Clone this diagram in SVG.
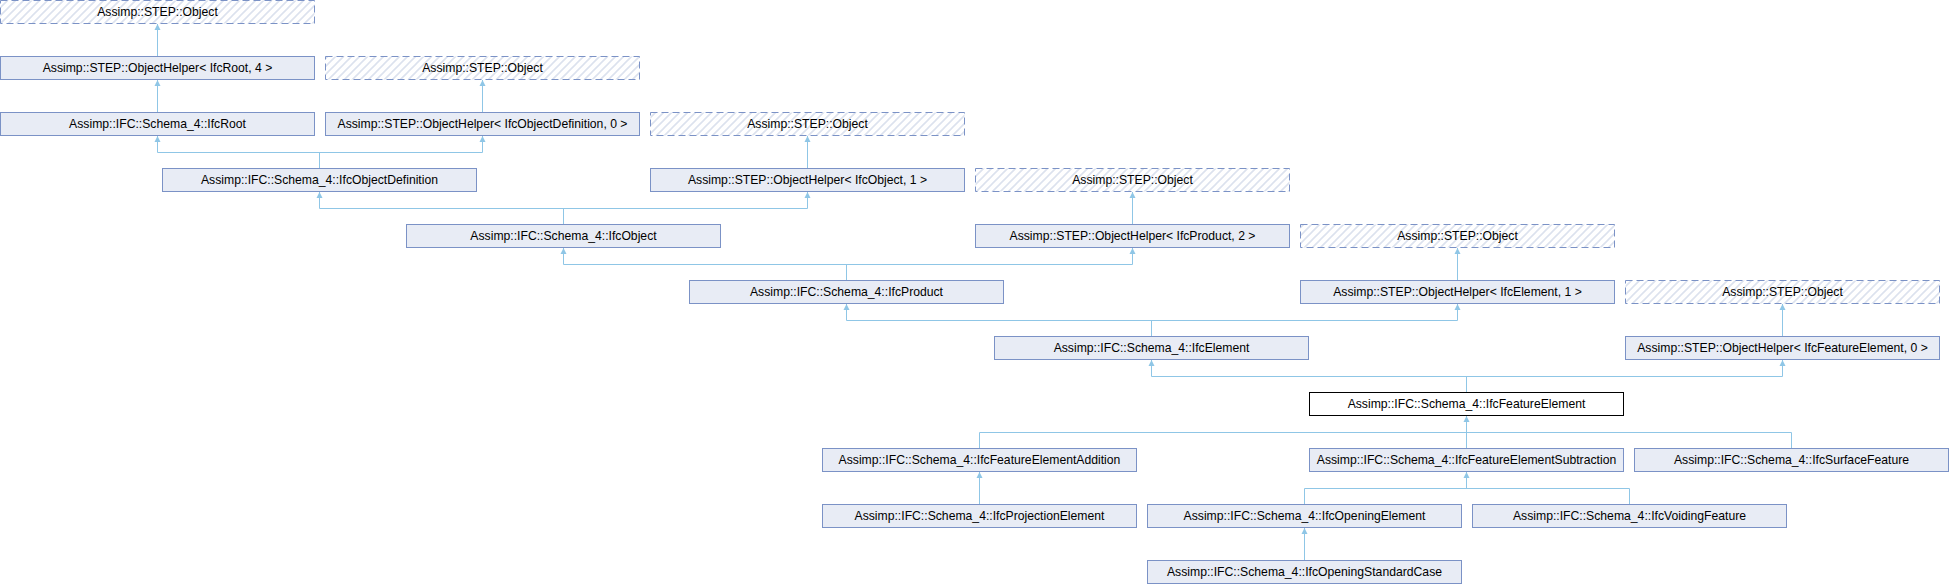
<svg xmlns="http://www.w3.org/2000/svg" width="1949" height="584" viewBox="0 0 1949 584">
<defs>
<pattern id="hatch" patternUnits="userSpaceOnUse" width="8" height="8">
<path d="M-2,2 L2,-2 M0,8 L8,0 M6,10 L10,6" stroke="#dce2ee" stroke-width="1.6"/>
</pattern>
<style>
.n rect{fill:#e8ecf5;stroke:#7b92c6;stroke-width:1}
.d rect{fill:url(#hatch);stroke:#7b92c6;stroke-width:1;stroke-dasharray:7,4}
.cur rect{fill:#ffffff;stroke:#000000;stroke-width:1}
text{font-family:"Liberation Sans",Arial,sans-serif;font-size:12.2px;fill:#000;text-anchor:middle}
#edges path{fill:none;stroke:#8fc6e6;stroke-width:1}
#edges polygon{fill:#8fc6e6;stroke:none}
</style>
</defs>
<rect x="0" y="0" width="1949" height="584" fill="#ffffff"/>
<g id="edges">
<path d="M157.5,56 V24"/><polygon points="157.5,24 154.5,30 160.5,30"/>
<path d="M482.5,112 V80"/><polygon points="482.5,80 479.5,86 485.5,86"/>
<path d="M157.5,112 V80"/><polygon points="157.5,80 154.5,86 160.5,86"/>
<path d="M319.5,168 V152.5 M157.5,136 V152.5 H482.5 V136"/><polygon points="157.5,136 154.5,142 160.5,142"/><polygon points="482.5,136 479.5,142 485.5,142"/>
<path d="M807.5,168 V136"/><polygon points="807.5,136 804.5,142 810.5,142"/>
<path d="M563.5,224 V208.5 M319.5,192 V208.5 H807.5 V192"/><polygon points="319.5,192 316.5,198 322.5,198"/><polygon points="807.5,192 804.5,198 810.5,198"/>
<path d="M1132.5,224 V192"/><polygon points="1132.5,192 1129.5,198 1135.5,198"/>
<path d="M846.5,280 V264.5 M563.5,248 V264.5 H1132.5 V248"/><polygon points="563.5,248 560.5,254 566.5,254"/><polygon points="1132.5,248 1129.5,254 1135.5,254"/>
<path d="M1457.5,280 V248"/><polygon points="1457.5,248 1454.5,254 1460.5,254"/>
<path d="M1151.5,336 V320.5 M846.5,304 V320.5 H1457.5 V304"/><polygon points="846.5,304 843.5,310 849.5,310"/><polygon points="1457.5,304 1454.5,310 1460.5,310"/>
<path d="M1782.5,336 V304"/><polygon points="1782.5,304 1779.5,310 1785.5,310"/>
<path d="M1466.5,392 V376.5 M1151.5,360 V376.5 H1782.5 V360"/><polygon points="1151.5,360 1148.5,366 1154.5,366"/><polygon points="1782.5,360 1779.5,366 1785.5,366"/>
<path d="M979.5,448 V432.5 H1791.5 V448 M1466.5,448 V416"/><polygon points="1466.5,416 1463.5,422 1469.5,422"/>
<path d="M979.5,504 V472"/><polygon points="979.5,472 976.5,478 982.5,478"/>
<path d="M1304.5,504 V488.5 H1629.5 V504 M1466.5,488.5 V472"/><polygon points="1466.5,472 1463.5,478 1469.5,478"/>
<path d="M1304.5,560 V528"/><polygon points="1304.5,528 1301.5,534 1307.5,534"/>
</g>
<g id="node0" class="d"><rect x="0.5" y="0.5" width="314" height="23"/><text x="157.5" y="16">Assimp::STEP::Object</text></g>
<g id="node1" class="n"><rect x="0.5" y="56.5" width="314" height="23"/><text x="157.5" y="72">Assimp::STEP::ObjectHelper&lt; IfcRoot, 4 &gt;</text></g>
<g id="node2" class="d"><rect x="325.5" y="56.5" width="314" height="23"/><text x="482.5" y="72">Assimp::STEP::Object</text></g>
<g id="node3" class="n"><rect x="0.5" y="112.5" width="314" height="23"/><text x="157.5" y="128">Assimp::IFC::Schema_4::IfcRoot</text></g>
<g id="node4" class="n"><rect x="325.5" y="112.5" width="314" height="23"/><text x="482.5" y="128">Assimp::STEP::ObjectHelper&lt; IfcObjectDefinition, 0 &gt;</text></g>
<g id="node5" class="d"><rect x="650.5" y="112.5" width="314" height="23"/><text x="807.5" y="128">Assimp::STEP::Object</text></g>
<g id="node6" class="n"><rect x="162.5" y="168.5" width="314" height="23"/><text x="319.5" y="184">Assimp::IFC::Schema_4::IfcObjectDefinition</text></g>
<g id="node7" class="n"><rect x="650.5" y="168.5" width="314" height="23"/><text x="807.5" y="184">Assimp::STEP::ObjectHelper&lt; IfcObject, 1 &gt;</text></g>
<g id="node8" class="d"><rect x="975.5" y="168.5" width="314" height="23"/><text x="1132.5" y="184">Assimp::STEP::Object</text></g>
<g id="node9" class="n"><rect x="406.5" y="224.5" width="314" height="23"/><text x="563.5" y="240">Assimp::IFC::Schema_4::IfcObject</text></g>
<g id="node10" class="n"><rect x="975.5" y="224.5" width="314" height="23"/><text x="1132.5" y="240">Assimp::STEP::ObjectHelper&lt; IfcProduct, 2 &gt;</text></g>
<g id="node11" class="d"><rect x="1300.5" y="224.5" width="314" height="23"/><text x="1457.5" y="240">Assimp::STEP::Object</text></g>
<g id="node12" class="n"><rect x="689.5" y="280.5" width="314" height="23"/><text x="846.5" y="296">Assimp::IFC::Schema_4::IfcProduct</text></g>
<g id="node13" class="n"><rect x="1300.5" y="280.5" width="314" height="23"/><text x="1457.5" y="296">Assimp::STEP::ObjectHelper&lt; IfcElement, 1 &gt;</text></g>
<g id="node14" class="d"><rect x="1625.5" y="280.5" width="314" height="23"/><text x="1782.5" y="296">Assimp::STEP::Object</text></g>
<g id="node15" class="n"><rect x="994.5" y="336.5" width="314" height="23"/><text x="1151.5" y="352">Assimp::IFC::Schema_4::IfcElement</text></g>
<g id="node16" class="n"><rect x="1625.5" y="336.5" width="314" height="23"/><text x="1782.5" y="352">Assimp::STEP::ObjectHelper&lt; IfcFeatureElement, 0 &gt;</text></g>
<g id="node17" class="cur"><rect x="1309.5" y="392.5" width="314" height="23"/><text x="1466.5" y="408">Assimp::IFC::Schema_4::IfcFeatureElement</text></g>
<g id="node18" class="n"><rect x="822.5" y="448.5" width="314" height="23"/><text x="979.5" y="464">Assimp::IFC::Schema_4::IfcFeatureElementAddition</text></g>
<g id="node19" class="n"><rect x="1309.5" y="448.5" width="314" height="23"/><text x="1466.5" y="464">Assimp::IFC::Schema_4::IfcFeatureElementSubtraction</text></g>
<g id="node20" class="n"><rect x="1634.5" y="448.5" width="314" height="23"/><text x="1791.5" y="464">Assimp::IFC::Schema_4::IfcSurfaceFeature</text></g>
<g id="node21" class="n"><rect x="822.5" y="504.5" width="314" height="23"/><text x="979.5" y="520">Assimp::IFC::Schema_4::IfcProjectionElement</text></g>
<g id="node22" class="n"><rect x="1147.5" y="504.5" width="314" height="23"/><text x="1304.5" y="520">Assimp::IFC::Schema_4::IfcOpeningElement</text></g>
<g id="node23" class="n"><rect x="1472.5" y="504.5" width="314" height="23"/><text x="1629.5" y="520">Assimp::IFC::Schema_4::IfcVoidingFeature</text></g>
<g id="node24" class="n"><rect x="1147.5" y="560.5" width="314" height="23"/><text x="1304.5" y="576">Assimp::IFC::Schema_4::IfcOpeningStandardCase</text></g>
</svg>
